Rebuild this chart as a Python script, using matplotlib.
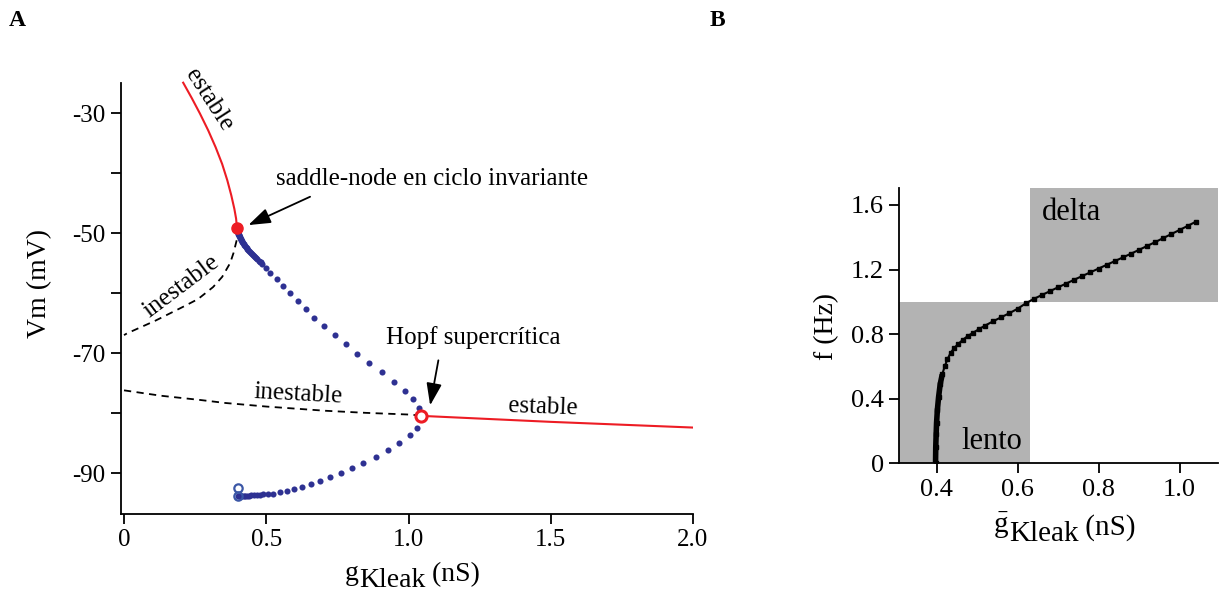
import matplotlib
matplotlib.use("Agg")
import matplotlib.pyplot as plt
from matplotlib.transforms import IdentityTransform

plt.rcParams['font.family'] = ['Liberation Serif', 'DejaVu Serif']
plt.rcParams['mathtext.fontset'] = 'custom'
plt.rcParams['mathtext.rm'] = 'Liberation Serif'
plt.rcParams['mathtext.it'] = 'Liberation Serif:italic'

RED = '#ed1c24'
BLUE = '#2e3192'
GRAY = '#b3b3b3'

# ---- panel A: bifurcation diagram, Vm vs gKleak ----
# stable branch above the saddle-node
stab_hi_g = [0.208, 0.238, 0.267, 0.296, 0.322, 0.345, 0.363, 0.377, 0.388, 0.394, 0.397]
stab_hi_v = [-24.95, -27.5, -30.1, -32.9, -35.7, -38.5, -41.2, -43.7, -46.0, -47.6, -49.1]
# unstable branch from the saddle-node down to g = 0
unst_hi_g = [0.397, 0.396, 0.385, 0.373, 0.345, 0.313, 0.260, 0.207, 0.110, 0.011, 0.0]
unst_hi_v = [-49.1, -51.2, -53.3, -55.0, -57.3, -59.0, -61.0, -62.3, -64.6, -66.7, -67.0]
# unstable low branch up to the Hopf point
unst_lo_g = [0.0, 0.13, 0.267, 0.355, 0.50, 0.707, 0.85, 1.011, 1.044]
unst_lo_v = [-76.2, -77.1, -77.8, -78.3, -78.9, -79.6, -79.95, -80.25, -80.45]
# stable branch beyond the Hopf point
stab_lo_g = [1.044, 1.5, 2.0]
stab_lo_v = [-80.45, -81.45, -82.4]

# oscillation maxima
osc_max_g = [0.398, 0.399, 0.400, 0.401, 0.402, 0.403, 0.404, 0.405, 0.407, 0.408,
             0.410, 0.412, 0.414, 0.416, 0.418, 0.420, 0.423, 0.425, 0.428, 0.431,
             0.434, 0.437, 0.440, 0.443, 0.447, 0.450, 0.454, 0.457, 0.461, 0.465,
             0.469, 0.473, 0.477, 0.481, 0.485, 0.498,
             0.513, 0.537, 0.560, 0.583, 0.611, 0.640, 0.669, 0.703, 0.742, 0.780,
             0.820, 0.861, 0.908, 0.949, 0.988, 1.017, 1.037]
osc_max_v = [-49.4, -49.6, -49.8, -49.95, -50.1, -50.25, -50.35, -50.5, -50.7, -50.85,
             -51.0, -51.2, -51.35, -51.5, -51.65, -51.8, -51.95, -52.1, -52.3, -52.45,
             -52.6, -52.8, -52.95, -53.1, -53.3, -53.5, -53.7, -53.85, -54.0, -54.2,
             -54.4, -54.6, -54.75, -54.9, -55.1, -55.8,
             -56.7, -57.7, -58.8, -60.05, -61.3, -62.7, -64.1, -65.5, -67.0, -68.55,
             -70.1, -71.6, -73.2, -74.8, -76.3, -77.7, -79.1]
# oscillation minima
osc_min_g = [1.029, 1.005, 0.967, 0.929, 0.885, 0.841, 0.800, 0.762, 0.724, 0.689,
             0.657, 0.627, 0.599, 0.572, 0.548, 0.525, 0.505, 0.490, 0.477, 0.466,
             0.456, 0.447, 0.439, 0.432, 0.426, 0.420, 0.415, 0.411, 0.407, 0.404, 0.402]
osc_min_v = [-82.4, -83.7, -84.95, -86.2, -87.3, -88.3, -89.2, -90.05, -90.7, -91.3,
             -91.8, -92.3, -92.6, -92.95, -93.2, -93.4, -93.5, -93.55, -93.6, -93.64,
             -93.67, -93.7, -93.72, -93.74, -93.76, -93.78, -93.8, -93.81, -93.82, -93.83, -93.83]
# end points of the periodic orbit at the saddle-node
orbit_end_g = [0.400, 0.400]
orbit_end_v = [-92.55, -93.83]

snic = (0.397, -49.1)
hopf = (1.044, -80.45)

# ---- panel B: frequency vs gKleak ----
freq_g = [0.3975, 0.398, 0.399, 0.400, 0.402, 0.405, 0.409, 0.414, 0.420, 0.427,
          0.435, 0.444, 0.454, 0.465, 0.477, 0.490, 0.504, 0.520, 0.540, 0.560,
          0.580, 0.600, 0.620, 0.640, 0.660, 0.680, 0.700, 0.720, 0.740, 0.760,
          0.780, 0.800, 0.820, 0.840, 0.860, 0.880, 0.900, 0.920, 0.940, 0.960,
          0.980, 1.000, 1.020, 1.040]
freq_f = [0.00, 0.10, 0.18, 0.25, 0.33, 0.41, 0.49, 0.55, 0.60, 0.645,
          0.685, 0.715, 0.740, 0.765, 0.788, 0.808, 0.830, 0.853, 0.880, 0.905,
          0.930, 0.957, 0.990, 1.018, 1.042, 1.066, 1.090, 1.113, 1.137, 1.160,
          1.183, 1.206, 1.229, 1.252, 1.275, 1.298, 1.322, 1.346, 1.370, 1.395,
          1.420, 1.445, 1.470, 1.496]
band_edge_g = 0.63
band_edge_f = 1.0

W, H = 1224, 596
fig = plt.figure(figsize=(W / 100, H / 100), dpi=100)


def px_axes(left, top, right, bottom):
    return fig.add_axes([left / W, 1 - bottom / H, (right - left) / W, (bottom - top) / H])


def style(ax, size):
    for s in ('top', 'right'):
        ax.spines[s].set_visible(False)
    for s in ('left', 'bottom'):
        ax.spines[s].set_linewidth(1.3)
    ax.tick_params(direction='out', length=7, width=1.3, labelsize=size, pad=4)


def run_text(x, base_y, parts, size):
    # lay out text pieces side by side; dy moves a piece's baseline down (pixels)
    r = fig.canvas.get_renderer()
    for s, dy in parts:
        t = fig.text(x, H - (base_y + dy), s, fontsize=size, va='baseline', ha='left',
                     transform=IdentityTransform())
        x += t.get_window_extent(r).width


# panel A
ax = px_axes(120.6, 83, 693, 514)
style(ax, 18)
ax.set_xlim(-0.012, 2.0)
ax.set_ylim(-96.8, -25)
ax.set_xticks([0, 0.5, 1.0, 1.5, 2.0])
ax.set_xticklabels(['0', '0.5', '1.0', '1.5', '2.0'])
yt = [-30, -40, -50, -60, -70, -80, -90]
ax.set_yticks(yt)
ax.set_yticklabels(['-30', '', '-50', '', '-70', '', '-90'])

ax.plot(stab_hi_g, stab_hi_v, color=RED, lw=1.5, clip_on=False)
ax.plot(stab_lo_g, stab_lo_v, color=RED, lw=1.5)
ax.plot(unst_hi_g, unst_hi_v, color='k', lw=1.3, ls=(0, (4, 3)))
ax.plot(unst_lo_g, unst_lo_v, color='k', lw=1.3, ls=(0, (4, 3)))
ax.plot(osc_max_g, osc_max_v, 'o', color=BLUE, ms=4.4, mec='none')
ax.plot(osc_min_g, osc_min_v, 'o', color=BLUE, ms=4.4, mec='none')
ax.plot(orbit_end_g, orbit_end_v, 'o', color='#3b57a6', ms=6, mfc='none', mew=1.6)
ax.plot(*snic, 'o', color=RED, ms=8, zorder=5)
ax.plot(*hopf, 'o', color=RED, ms=8, mfc='white', mew=2.2, zorder=5)

arrow = dict(arrowstyle='-|>,head_length=0.75,head_width=0.26', color='k', lw=1.3,
             mutation_scale=18, shrinkA=0, shrinkB=0)
ax.annotate('', xy=(0.437, -48.67), xytext=(0.654, -43.95), arrowprops=arrow)
ax.annotate('', xy=(1.076, -78.7), xytext=(1.105, -71.2), arrowprops=arrow)

ax.text(1.083, -41.0, 'saddle-node en ciclo invariante', fontsize=18, ha='center', va='center')
ax.text(1.228, -67.4, 'Hopf supercrítica', fontsize=18, ha='center', va='center')
ax.text(0.30, -27.8, 'estable', fontsize=18, ha='center', va='center', rotation=-57,
        rotation_mode='anchor', clip_on=False)
ax.text(0.203, -58.95, 'inestable', fontsize=18, ha='center', va='center', rotation=37,
        rotation_mode='anchor')
ax.text(0.613, -76.8, 'inestable', fontsize=18, ha='center', va='center', rotation=-3,
        rotation_mode='anchor')
ax.text(1.474, -79.0, 'estable', fontsize=18, ha='center', va='center', rotation=-2,
        rotation_mode='anchor')

fig.text(40 / W, 1 - 283 / H, 'Vm (mV)', fontsize=20, rotation=90, ha='center', va='center')
run_text(345, 580, [('g', 0), ('Kleak', 7), (' (nS)', 1)], 20)
fig.text(9 / W, 1 - 20 / H, 'A', fontsize=17, weight='bold', ha='left', va='center')

# panel B
bx = px_axes(899.3, 188, 1218, 463.3)
style(bx, 19)
x0, x1 = 0.308, 1.095
bx.set_xlim(x0, x1)
bx.set_ylim(0, 1.705)
bx.fill_between([x0, band_edge_g], 0, band_edge_f, color=GRAY, lw=0, zorder=0)
bx.fill_between([band_edge_g, x1], band_edge_f, 1.705, color=GRAY, lw=0, zorder=0)
bx.set_xticks([0.4, 0.6, 0.8, 1.0])
bx.set_xticklabels(['0.4', '0.6', '0.8', '1.0'])
bx.set_yticks([0, 0.4, 0.8, 1.2, 1.6])
bx.set_yticklabels(['0', '0.4', '0.8', '1.2', '1.6'])
bx.plot(freq_g, freq_f, color='k', lw=1.5, marker='s', ms=3, zorder=3)
bx.plot(freq_g[:8], freq_f[:8], color='k', lw=4, solid_capstyle='butt', zorder=3)
bx.text(0.734, 1.556, 'delta', fontsize=22, ha='center', va='center')
bx.text(0.536, 0.138, 'lento', fontsize=22, ha='center', va='center')

fig.text(827 / W, 1 - 327 / H, 'f (Hz)', fontsize=20, rotation=90, ha='center', va='center')
run_text(993, 533, [(r'$\bar{\mathrm{g}}$', 0), ('Kleak', 8), (' (nS)', 2)], 21)
fig.text(710 / W, 1 - 20 / H, 'B', fontsize=17, weight='bold', ha='left', va='center')

fig.savefig('out.png', dpi=100)
